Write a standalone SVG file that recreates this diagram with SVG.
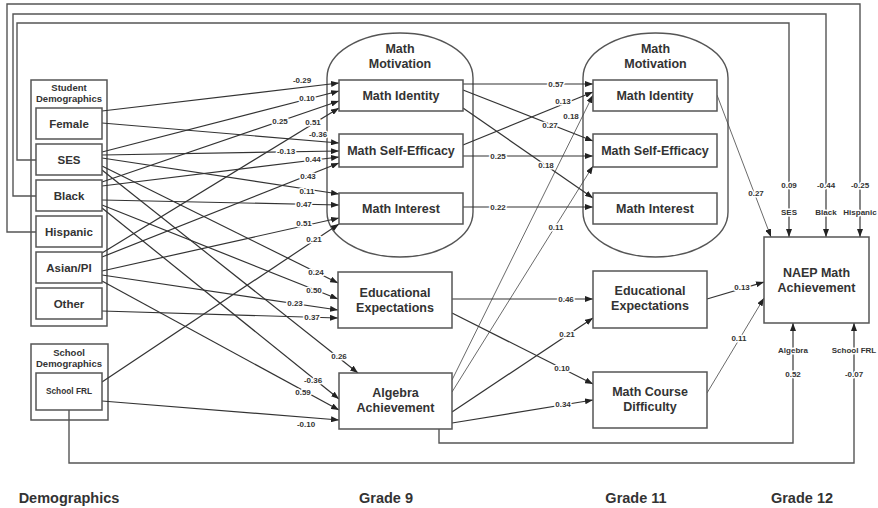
<svg xmlns="http://www.w3.org/2000/svg" width="878" height="508" viewBox="0 0 878 508">
<style>
.bg{fill:#fff}
.cap{fill:#fff;stroke:#555;stroke-width:1.4}
.box{fill:#fff;stroke:#555;stroke-width:1.5}
.e{fill:none;stroke:#333;stroke-width:1.2}
.t{fill:none;stroke:#444;stroke-width:0.8}
.fr{fill:none;stroke:#555;stroke-width:1.4}
.n{font-family:"Liberation Sans",Arial,sans-serif;font-weight:bold;fill:#333;text-anchor:middle}
.n12{font-size:12.5px}
.n11{font-size:11.5px}
.h{font-size:9.5px}
.s{font-size:8.3px}
.g{font-size:14.5px}
.l{font-family:"Liberation Sans",Arial,sans-serif;font-weight:bold;font-size:8px;fill:#333;text-anchor:middle;paint-order:stroke;stroke:#fff;stroke-width:3;stroke-linejoin:round}
</style>
<defs>
<marker id="a" viewBox="0 0 8 6" refX="8" refY="3" markerWidth="8" markerHeight="6" markerUnits="userSpaceOnUse" orient="auto">
<path d="M0,0 L8,3 L0,6 z" fill="#222"/>
</marker>
</defs>
<rect class="bg" x="0" y="0" width="878" height="508"/>

<!-- container nodes -->
<g id="student-demographics">
<rect class="box" x="31" y="80" width="76" height="246"/>
<text class="n h" x="69" y="90.5">Student</text>
<text class="n h" x="69" y="102">Demographics</text>
</g>
<g id="school-demographics">
<rect class="box" x="31" y="344" width="77" height="76"/>
<text class="n h" x="69" y="355.5">School</text>
<text class="n h" x="69" y="366.5">Demographics</text>
</g>
<g id="g9-motivation">
<path class="cap" d="M327,78 A73,45 0 0 1 473,78 L473,212 A73,45 0 0 1 327,212 Z"/>
<text class="n n12" x="400" y="52.5">Math</text>
<text class="n n12" x="400" y="67.5">Motivation</text>
</g>
<g id="g11-motivation">
<path class="cap" d="M583,78 A72.5,45 0 0 1 728,78 L728,212 A72.5,45 0 0 1 583,212 Z"/>
<text class="n n12" x="655.5" y="52.5">Math</text>
<text class="n n12" x="655.5" y="67.5">Motivation</text>
</g>

<g id="connectors">
<!-- demographics to grade 9 -->
<path class="e" marker-end="url(#a)" d="M102,111 L339,83"/>
<path class="e" marker-end="url(#a)" d="M102,152 L339,91"/>
<path class="e" marker-end="url(#a)" d="M102,182 L339,101"/>
<path class="e" marker-end="url(#a)" d="M102,253 L339,108"/>
<path class="e" marker-end="url(#a)" d="M102,123 L339,143"/>
<path class="e" marker-end="url(#a)" d="M102,155 L339,151"/>
<path class="e" marker-end="url(#a)" d="M102,186 L339,157"/>
<path class="e" marker-end="url(#a)" d="M102,257 L339,163"/>
<path class="e" marker-end="url(#a)" d="M102,158 L339,194"/>
<path class="e" marker-end="url(#a)" d="M102,200 L339,205"/>
<path class="e" marker-end="url(#a)" d="M102,271 L339,218"/>
<path class="e" marker-end="url(#a)" d="M102,382 L339,224"/>
<path class="e" marker-end="url(#a)" d="M102,166 L338,283"/>
<path class="e" marker-end="url(#a)" d="M102,205 L338,299"/>
<path class="e" marker-end="url(#a)" d="M102,275 L338,310"/>
<path class="e" marker-end="url(#a)" d="M102,311 L338,318"/>
<path class="e" marker-end="url(#a)" d="M102,170 L358,373"/>
<path class="e" marker-end="url(#a)" d="M102,208 L339,399"/>
<path class="e" marker-end="url(#a)" d="M102,281 L339,410"/>
<path class="e" marker-end="url(#a)" d="M102,401 L339,420"/>
<!-- grade 9 to grade 11 -->
<path class="e" marker-end="url(#a)" d="M463,84 L593,84"/>
<path class="e" marker-end="url(#a)" d="M463,90 L593,141"/>
<path class="e" marker-end="url(#a)" d="M463,108 L593,198"/>
<path class="e" marker-end="url(#a)" d="M463,145 L593,92"/>
<path class="e" marker-end="url(#a)" d="M463,156 L593,156"/>
<path class="e" marker-end="url(#a)" d="M463,207 L593,207"/>
<path class="t" marker-end="url(#a)" d="M452,380 L593,95"/>
<path class="t" marker-end="url(#a)" d="M452,392 L593,166"/>
<path class="e" marker-end="url(#a)" d="M452,299 L593,299"/>
<path class="e" marker-end="url(#a)" d="M452,313 L593,384"/>
<path class="e" marker-end="url(#a)" d="M452,412 L593,318"/>
<path class="e" marker-end="url(#a)" d="M452,423 L593,400"/>
<!-- grade 11 to NAEP -->
<path class="t" marker-end="url(#a)" d="M717,95 L771,237"/>
<path class="e" marker-end="url(#a)" d="M707,299 L764,282"/>
<path class="t" marker-end="url(#a)" d="M707,393 L764,298"/>
<!-- direct paths to NAEP -->
<path class="fr" marker-end="url(#a)" d="M36,160 L17,160 L17,23 L789,23 L789,237"/>
<path class="fr" marker-end="url(#a)" d="M36,196 L13,196 L13,14 L826,14 L826,237"/>
<path class="fr" marker-end="url(#a)" d="M36,232 L7,232 L7,4 L860,4 L860,237"/>
<path class="fr" marker-end="url(#a)" d="M439,429 L439,443 L793,443 L793,323"/>
<path class="fr" marker-end="url(#a)" d="M69,410 L69,463 L854,463 L854,323"/>
</g>

<g id="female"><rect class="box" x="36" y="108" width="66" height="31"/><text class="n n11" x="69" y="127.5">Female</text></g>
<g id="ses"><rect class="box" x="36" y="144" width="66" height="31"/><text class="n n11" x="69" y="163.5">SES</text></g>
<g id="black"><rect class="box" x="36" y="180" width="66" height="31"/><text class="n n11" x="69" y="199.5">Black</text></g>
<g id="hispanic"><rect class="box" x="36" y="216" width="66" height="31"/><text class="n n11" x="69" y="235.5">Hispanic</text></g>
<g id="asian-pi"><rect class="box" x="36" y="252" width="66" height="31"/><text class="n n11" x="69" y="271.5">Asian/PI</text></g>
<g id="other"><rect class="box" x="36" y="288" width="66" height="31"/><text class="n n11" x="69" y="307.5">Other</text></g>
<g id="school-frl"><rect class="box" x="36" y="373" width="66" height="37"/><text class="n s" x="69" y="394">School FRL</text></g>

<g id="g9-identity"><rect class="box" x="339" y="80" width="124" height="31"/><text class="n n12" x="401" y="100">Math Identity</text></g>
<g id="g9-selfefficacy"><rect class="box" x="339" y="134" width="124" height="33"/><text class="n n12" x="401" y="155">Math Self-Efficacy</text></g>
<g id="g9-interest"><rect class="box" x="339" y="193" width="124" height="31"/><text class="n n12" x="401" y="213">Math Interest</text></g>
<g id="g9-edexp"><rect class="box" x="338" y="272" width="114" height="56"/><text class="n n12" x="395" y="296.5">Educational</text><text class="n n12" x="395" y="311.5">Expectations</text></g>
<g id="g9-algebra"><rect class="box" x="339" y="373" width="113" height="56"/><text class="n n12" x="395.5" y="396.5">Algebra</text><text class="n n12" x="395.5" y="411.5">Achievement</text></g>

<g id="g11-identity"><rect class="box" x="593" y="80" width="124" height="31"/><text class="n n12" x="655" y="100">Math Identity</text></g>
<g id="g11-selfefficacy"><rect class="box" x="593" y="134" width="124" height="33"/><text class="n n12" x="655" y="155">Math Self-Efficacy</text></g>
<g id="g11-interest"><rect class="box" x="593" y="193" width="124" height="31"/><text class="n n12" x="655" y="213">Math Interest</text></g>
<g id="g11-edexp"><rect class="box" x="593" y="271" width="114" height="57"/><text class="n n12" x="650" y="294.5">Educational</text><text class="n n12" x="650" y="309.5">Expectations</text></g>
<g id="g11-course"><rect class="box" x="593" y="372" width="114" height="56"/><text class="n n12" x="650" y="395.5">Math Course</text><text class="n n12" x="650" y="410.5">Difficulty</text></g>

<g id="naep"><rect class="box" x="764" y="237" width="105" height="86"/><text class="n n12" x="816.5" y="276.5">NAEP Math</text><text class="n n12" x="816.5" y="291.5">Achievement</text></g>

<g id="labels">
<text class="l" x="302" y="83">-0.29</text>
<text class="l" x="307" y="101">0.10</text>
<text class="l" x="280" y="124">0.25</text>
<text class="l" x="313" y="125">0.51</text>
<text class="l" x="318" y="137">-0.36</text>
<text class="l" x="286" y="154">-0.13</text>
<text class="l" x="313" y="162">0.44</text>
<text class="l" x="308" y="179">0.43</text>
<text class="l" x="307" y="194">0.11</text>
<text class="l" x="304" y="207">0.47</text>
<text class="l" x="304" y="226">0.51</text>
<text class="l" x="314" y="242">0.21</text>
<text class="l" x="316" y="275">0.24</text>
<text class="l" x="314" y="293">0.50</text>
<text class="l" x="295" y="306">0.23</text>
<text class="l" x="312" y="320">0.37</text>
<text class="l" x="339" y="359">0.26</text>
<text class="l" x="313" y="383">-0.36</text>
<text class="l" x="303" y="395">0.59</text>
<text class="l" x="306" y="427">-0.10</text>
<text class="l" x="556" y="87">0.57</text>
<text class="l" x="550" y="128">0.27</text>
<text class="l" x="546" y="168">0.18</text>
<text class="l" x="563" y="104">0.13</text>
<text class="l" x="498" y="159">0.25</text>
<text class="l" x="498" y="210">0.22</text>
<text class="l" x="571" y="119">0.18</text>
<text class="l" x="556" y="230">0.11</text>
<text class="l" x="566" y="302">0.46</text>
<text class="l" x="562" y="371">0.10</text>
<text class="l" x="567" y="337">0.21</text>
<text class="l" x="563" y="407">0.34</text>
<text class="l" x="756" y="196">0.27</text>
<text class="l" x="742" y="290">0.13</text>
<text class="l" x="739" y="341">0.11</text>
<text class="l" x="789" y="188">0.09</text>
<text class="l" x="789" y="215">SES</text>
<text class="l" x="826" y="188">-0.44</text>
<text class="l" x="826" y="215">Black</text>
<text class="l" x="860" y="188">-0.25</text>
<text class="l" x="860" y="215">Hispanic</text>
<text class="l" x="793" y="353">Algebra</text>
<text class="l" x="793" y="377">0.52</text>
<text class="l" x="854" y="353">School FRL</text>
<text class="l" x="854" y="377">-0.07</text>
</g>

<g id="column-titles">
<text class="n g" x="69" y="503">Demographics</text>
<text class="n g" x="386" y="503">Grade 9</text>
<text class="n g" x="636" y="503">Grade 11</text>
<text class="n g" x="802" y="503">Grade 12</text>
</g>
</svg>
